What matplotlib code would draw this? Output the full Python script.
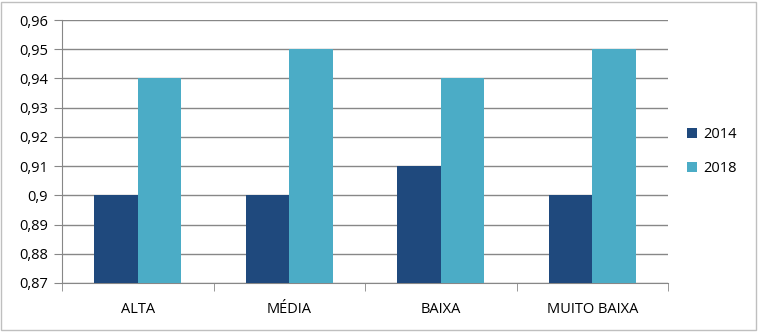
import matplotlib
matplotlib.use("Agg")
from matplotlib import pyplot as plt
from matplotlib.patches import Rectangle
from matplotlib.ticker import FuncFormatter
import numpy as np

# Data
categories = ["ALTA", "MÉDIA", "BAIXA", "MUITO BAIXA"]
values_2014 = [0.90, 0.90, 0.91, 0.90]
values_2018 = [0.94, 0.95, 0.94, 0.95]
series_names = ["2014", "2018"]

plt.rcParams['font.family'] = ['Open Sans', 'DejaVu Sans']

fig = plt.figure(figsize=(7.58, 3.32), dpi=100)
ax = fig.add_axes([62 / 758, 1 - 283 / 332, 606 / 758, 263 / 332])

grid_color = "#878787"
x = np.arange(len(categories))
bar_w = 1 / 3.5
ax.bar(x - bar_w / 2, values_2014, bar_w, color="#1F497D", label=series_names[0], zorder=3)
ax.bar(x + bar_w / 2, values_2018, bar_w, color="#4BACC6", label=series_names[1], zorder=3)

ax.set_ylim(0.87, 0.96)
ax.set_yticks(np.arange(0.87, 0.9601, 0.01))
ax.yaxis.set_major_formatter(FuncFormatter(lambda v, p: f"{v:.2f}".rstrip("0").replace(".", ",") if round(v, 2) == 0.9 else f"{v:.2f}".replace(".", ",")))
ax.set_xlim(-0.5, len(categories) - 0.5)
ax.set_xticks(x)
ax.set_xticklabels(categories)
ax.set_xticks(np.arange(-0.5, len(categories)), minor=True)
ax.tick_params(axis="x", which="major", length=0, pad=14, labelsize=10.5, labelcolor="black")
ax.tick_params(axis="x", which="minor", length=6, color=grid_color, direction="out")
ax.tick_params(axis="y", length=6, color=grid_color, labelsize=10.5, pad=4, labelcolor="black")

ax.grid(axis="y", color=grid_color, linewidth=1, zorder=0)
for side in ["top", "right"]:
    ax.spines[side].set_visible(False)
for side in ["left", "bottom"]:
    ax.spines[side].set_color(grid_color)

ax.legend(loc="center left", bbox_to_anchor=(1.01, 0.5), frameon=False,
          fontsize=10.5, handlelength=0.7, handleheight=0.7, labelspacing=1.3,
          handletextpad=0.4)

fig.patches.append(Rectangle((1 / 758, 2 / 332), 755 / 758, 328 / 332, transform=fig.transFigure,
                             fill=False, edgecolor="#BFBFBF", linewidth=1))

fig.savefig("out.png", dpi=100)
